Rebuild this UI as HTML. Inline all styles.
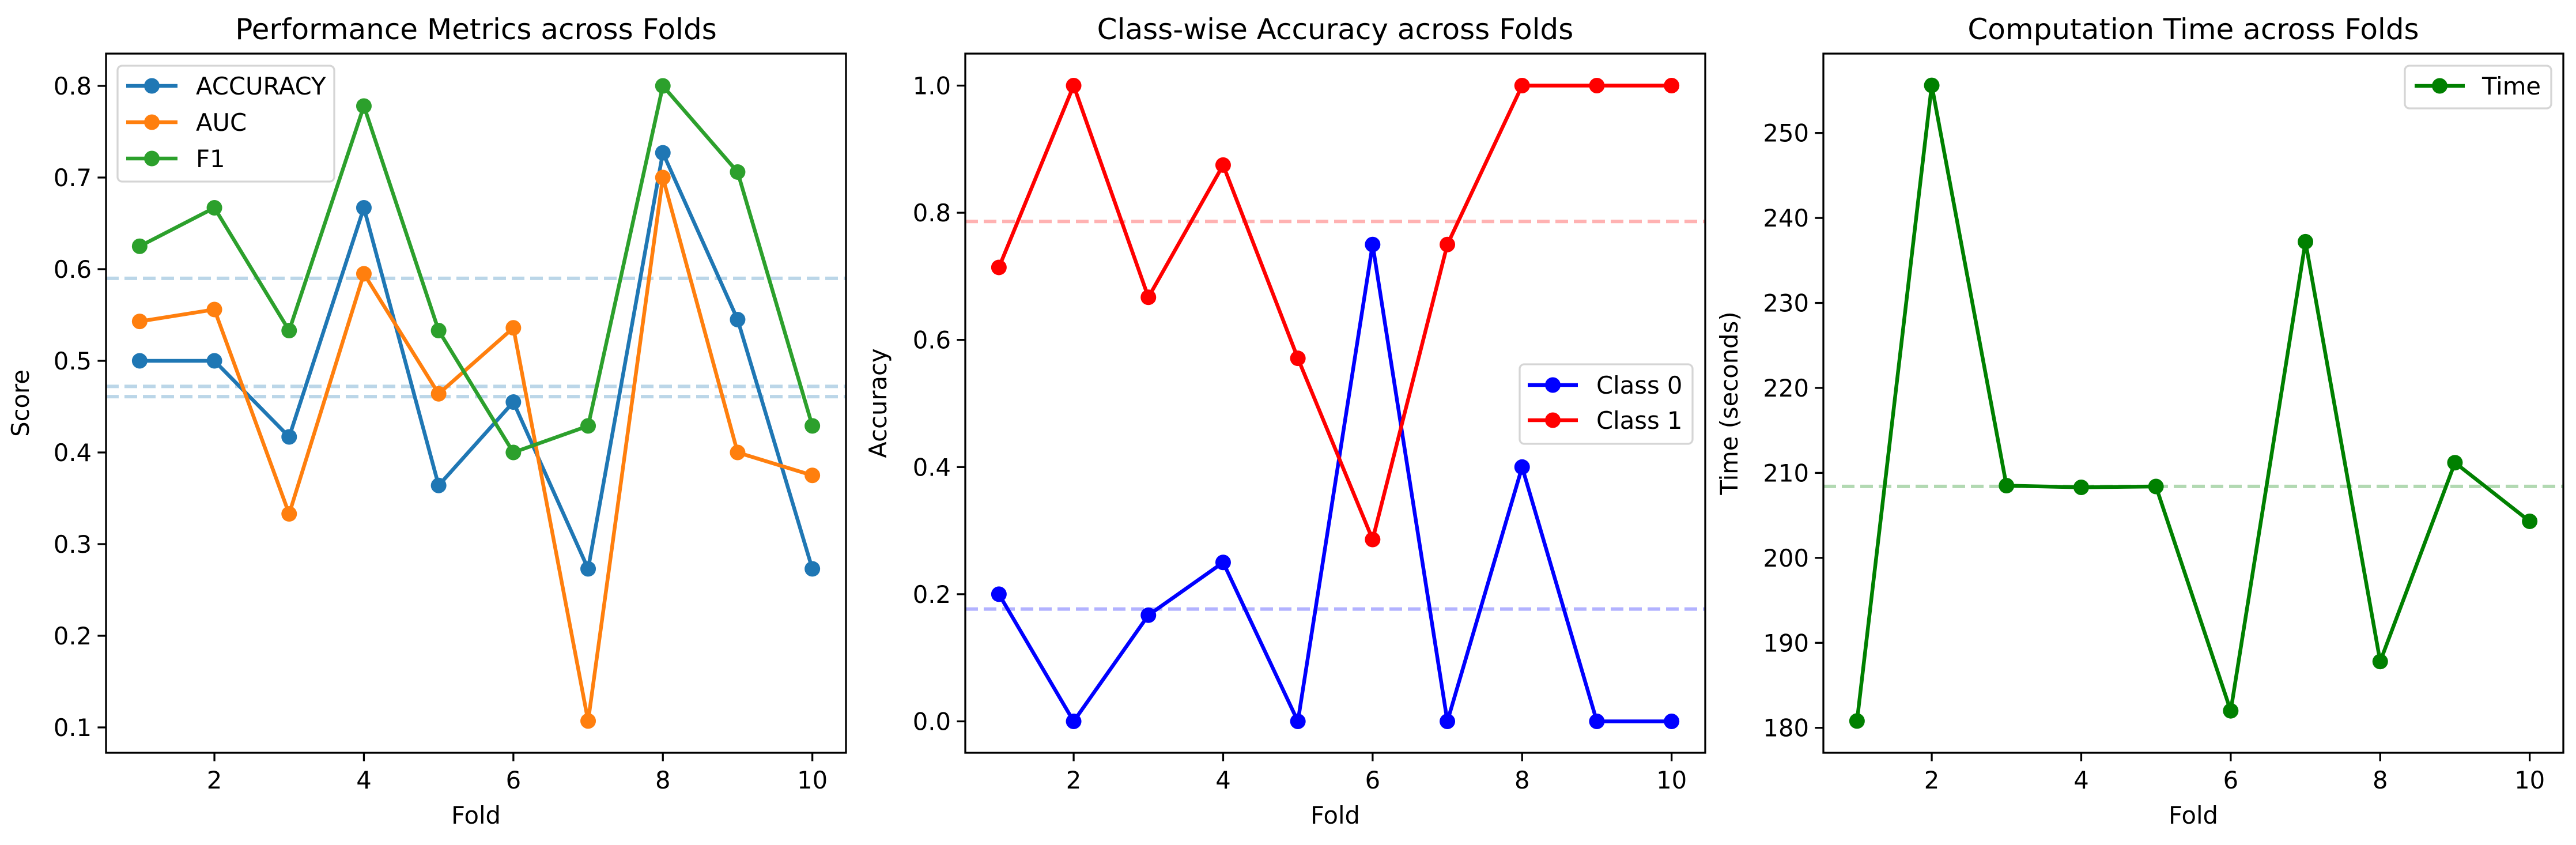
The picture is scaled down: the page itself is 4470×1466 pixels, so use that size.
<!DOCTYPE html>
<html><head><meta charset="utf-8"><style>
html,body{margin:0;padding:0;background:#fff}
svg{display:block;font-family:"DejaVu Sans","Liberation Sans",sans-serif}
</style></head><body>
<svg id="fig" width="4470" height="1466" viewBox="0 0 4470 1466" xmlns="http://www.w3.org/2000/svg"></svg>
<script>
const folds = [1,2,3,4,5,6,7,8,9,10];
const accuracy = [0.5,0.5,0.417,0.667,0.364,0.455,0.273,0.727,0.545,0.273];
const auc = [0.543,0.556,0.333,0.595,0.464,0.536,0.107,0.7,0.4,0.375];
const f1 = [0.625,0.667,0.533,0.778,0.533,0.4,0.429,0.8,0.706,0.429];
const class0 = [0.2,0,0.167,0.25,0,0.75,0,0.4,0,0];
const class1 = [0.714,1,0.667,0.875,0.571,0.286,0.75,1,1,1];
const times = [180.8,255.6,208.5,208.3,208.4,182.0,237.2,187.8,211.2,204.3];
const xTicks = [2,4,6,8,10];
const yTicks1 = [0.1,0.2,0.3,0.4,0.5,0.6,0.7,0.8];
const yTicks2 = [0.0,0.2,0.4,0.6,0.8,1.0];
const yTicks3 = [180,190,200,210,220,230,240,250];

const NS="http://www.w3.org/2000/svg";
const svg=document.getElementById('fig');
function mk(tag,attrs,parent){const e=document.createElementNS(NS,tag);for(const k in attrs)e.setAttribute(k,attrs[k]);(parent||svg).appendChild(e);return e;}
const mean=a=>a.reduce((s,v)=>s+v,0)/a.length;

function panel(cfg){
  const g=mk('g',{});
  
  
  const {L,R,T,B}=cfg;
  const xs=v=>L+(v-0.55)/(10.45-0.55)*(R-L);
  const ys=v=>cfg.yPx0+(v-cfg.yV0)*(cfg.yPx1-cfg.yPx0)/(cfg.yV1-cfg.yV0);
  cfg.series.forEach(s=>{
    const y=ys(mean(s.data));
    const ml=mk('line',{x1:L,x2:R,y1:y,y2:y,stroke:s.meanColor,'stroke-opacity':0.3,'stroke-width':6,'stroke-dasharray':'22,10'},g);
    
    
  });
  cfg.series.forEach(s=>{
    const pts=folds.map((f,i)=>xs(f)+','+ys(s.data[i])).join(' ');
    const pl=mk('polyline',{points:pts,fill:'none',stroke:s.color,'stroke-width':6.5,'stroke-linejoin':'round'},g);
    
    
    folds.forEach((f,i)=>{
      const c=mk('circle',{cx:xs(f),cy:ys(s.data[i]),r:13.5,fill:s.color},g);
      
      
    });
  });
  const fr=mk('rect',{x:L,y:T,width:R-L,height:B-T,fill:'none',stroke:'#000','stroke-width':3.3},g);
  
  
  xTicks.forEach(t=>{
    const x=xs(t);
    mk('line',{x1:x,x2:x,y1:B,y2:B+14.6,stroke:'#000','stroke-width':3.3},g);
    const tx=mk('text',{x:x,y:B+62,'font-size':41.7,'text-anchor':'middle'},g);
    tx.textContent=t;
    
    
  });
  cfg.yTicks.forEach(t=>{
    const y=ys(t);
    mk('line',{x1:L-14.6,x2:L,y1:y,y2:y,stroke:'#000','stroke-width':3.3},g);
    const tx=mk('text',{x:L-25,y:y+15,'font-size':41.7,'text-anchor':'end'},g);
    tx.textContent=t.toFixed(cfg.dec);
    
    
  });
  const ti=mk('text',{x:(L+R)/2,y:68,'font-size':50,'text-anchor':'middle'},g);
  ti.textContent=cfg.title;
  
  
  const xl=mk('text',{x:(L+R)/2,y:1429,'font-size':41.7,'text-anchor':'middle'},g);
  xl.textContent='Fold';
  
  
  const yc=(T+B)/2;
  const yl=mk('text',{x:cfg.ylx,y:yc,'font-size':41.7,'text-anchor':'middle',transform:`rotate(-90 ${cfg.ylx} ${yc})`},g);
  yl.textContent=cfg.ylabel;
  
  
  const lg=cfg.legend;
  const lgG=mk('g',{},g);
  
  
  mk('rect',{x:lg.x0,y:lg.y0,width:lg.x1-lg.x0,height:lg.y1-lg.y0,rx:8,fill:'#fff','fill-opacity':0.8,stroke:'#d5d5d5','stroke-width':3.3},lgG);
  cfg.series.forEach((s,i)=>{
    const y=lg.ys[i];
    const e=mk('g',{},lgG);
    
    
    mk('line',{x1:lg.lx0,x2:lg.lx1,y1:y,y2:y,stroke:s.color,'stroke-width':6.5},e);
    mk('circle',{cx:(lg.lx0+lg.lx1)/2,cy:y,r:13.5,fill:s.color},e);
    const t=mk('text',{x:lg.tx,y:y+15,'font-size':41.7},e);
    t.textContent=s.label;
  });
}

panel({name:'performance-metrics-chart',L:184,R:1468,T:93,B:1306,yV0:0.1,yPx0:1262,yV1:0.8,yPx1:149,yTicks:yTicks1,dec:1,
  title:'Performance Metrics across Folds',ylabel:'Score',ylx:50,
  series:[{key:'accuracy',label:'ACCURACY',data:accuracy,color:'#1f77b4',meanColor:'#1f77b4'},
          {key:'auc',label:'AUC',data:auc,color:'#ff7f0e',meanColor:'#1f77b4'},
          {key:'f1',label:'F1',data:f1,color:'#2ca02c',meanColor:'#1f77b4'}],
  legend:{x0:204,x1:580,y0:114,y1:315,ys:[149,212,275],lx0:219,lx1:308,tx:340}});
panel({name:'class-accuracy-chart',L:1675,R:2959,T:93,B:1306,yV0:0,yPx0:1251.5,yV1:1,yPx1:148.5,yTicks:yTicks2,dec:1,
  title:'Class-wise Accuracy across Folds',ylabel:'Accuracy',ylx:1538,
  series:[{key:'class-0',label:'Class 0',data:class0,color:'#0000ff',meanColor:'#0000ff'},
          {key:'class-1',label:'Class 1',data:class1,color:'#ff0000',meanColor:'#ff0000'}],
  legend:{x0:2637,x1:2937,y0:632,y1:770,ys:[668,729],lx0:2651,lx1:2738,tx:2770}});
panel({name:'computation-time-chart',L:3164,R:4448,T:93,B:1306,yV0:180,yPx0:1262.7,yV1:250,yPx1:230.7,yTicks:yTicks3,dec:0,
  title:'Computation Time across Folds',ylabel:'Time (seconds)',ylx:3015,
  series:[{key:'time',label:'Time',data:times,color:'#008000',meanColor:'#008000'}],
  legend:{x0:4173,x1:4427,y0:114,y1:188,ys:[149],lx0:4190,lx1:4277,tx:4307}});
</script>
</body></html>
